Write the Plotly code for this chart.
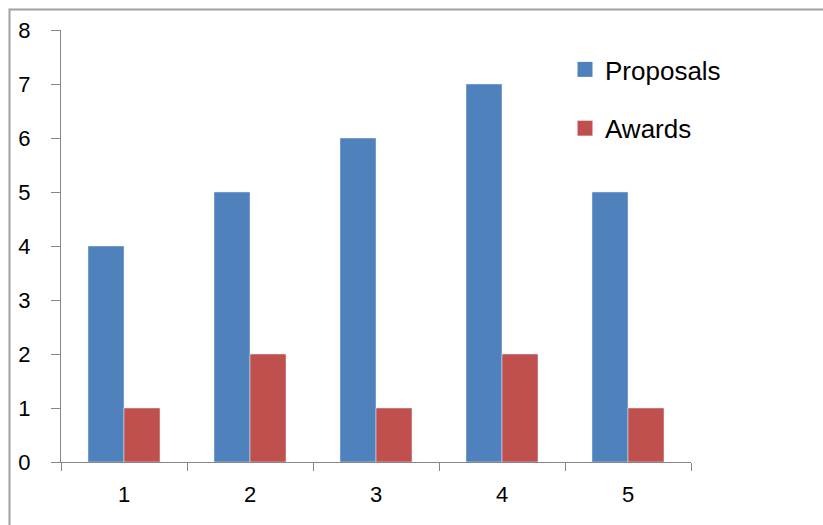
import plotly.graph_objects as go

categories = ["1", "2", "3", "4", "5"]
proposals = [4, 5, 6, 7, 5]
awards = [1, 2, 1, 2, 1]
y_ticks = [0, 1, 2, 3, 4, 5, 6, 7, 8]

BLUE = "#4F81BD"
RED = "#C0504D"
AXIS = "#868686"
FONT = "Liberation Sans, Arial, sans-serif"

fig = go.Figure()
fig.add_trace(go.Bar(x=categories, y=proposals, name="Proposals", marker_color=BLUE,
                     showlegend=False))
fig.add_trace(go.Bar(x=categories, y=awards, name="Awards", marker_color=RED,
                     showlegend=False))
# legend entries
fig.add_trace(go.Scatter(x=[None], y=[None], mode="markers", name="Proposals",
                         marker=dict(symbol="square", size=15, color=BLUE),
                         legendgroup="p"))
fig.add_trace(go.Scatter(x=[None], y=[None], mode="markers", name="Awards",
                         marker=dict(symbol="square", size=15, color=RED),
                         legendgroup="a"))

fig.update_layout(
    width=823, height=525,
    margin=dict(l=61, r=132, t=30, b=63),
    paper_bgcolor="white", plot_bgcolor="white",
    barmode="group", bargap=0.4286, bargroupgap=0,
    font=dict(family=FONT, size=22, color="#000000"),
    legend=dict(x=0.80, y=0.963, xanchor="left", yanchor="top",
                font=dict(size=26, color="#000000"),
                tracegroupgap=22, traceorder="grouped",
                bgcolor="rgba(0,0,0,0)", itemwidth=30),
    xaxis=dict(type="category", showline=True, linecolor=AXIS, linewidth=1,
               ticks="outside", tickson="boundaries", ticklen=8, tickcolor=AXIS,
               showgrid=False, zeroline=False, ticklabelstandoff=13,
               tickfont=dict(size=22)),
    yaxis=dict(range=[0, 8], tickvals=y_ticks, showline=True, linecolor=AXIS,
               linewidth=1, ticks="outside", ticklen=9, tickcolor=AXIS,
               showgrid=False, zeroline=False, ticklabelstandoff=16,
               tickfont=dict(size=22)),
    shapes=[dict(type="rect", xref="paper", yref="paper",
                 x0=(9.5 - 61) / 630, x1=2.0, y0=-1.0, y1=1 + (20.5) / 432,
                 line=dict(color="#A0A0A0", width=2), fillcolor="rgba(0,0,0,0)",
                 layer="below")],
)

fig.write_html("out.html")
